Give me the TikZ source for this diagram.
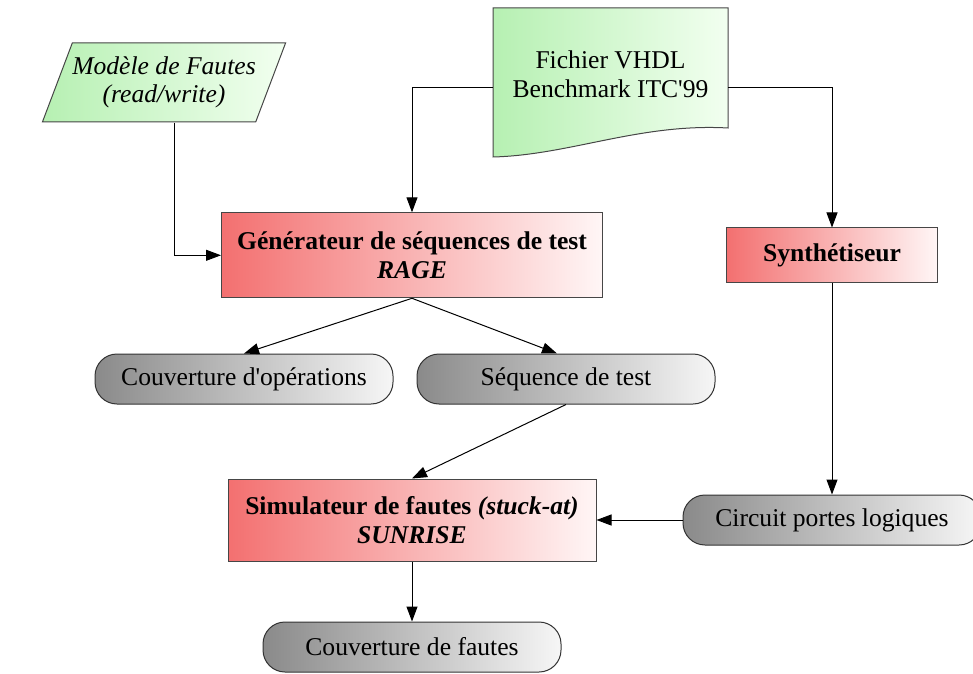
\documentclass[tikz,border=0pt]{standalone}
\usepackage{fontspec}
\setmainfont{Liberation Serif}
\usetikzlibrary{shapes}
\usetikzlibrary{arrows.meta}
\definecolor{redleft}{RGB}{243,112,112}
\definecolor{redright}{RGB}{255,246,246}
\definecolor{greyleft}{RGB}{138,138,138}
\definecolor{greyright}{RGB}{246,246,246}
\definecolor{greenleft}{RGB}{182,240,178}
\definecolor{greenright}{RGB}{242,255,240}
\definecolor{border}{RGB}{70,70,70}
\tikzset{
    mynodered/.style = {rectangle, line width=1pt, draw=border, align=center, left color=redleft, right color=redright, font=\bfseries, text=black},
    mynodegrey/.style = {rectangle, rounded corners=22pt, line width=1pt, draw=black!80, align=center, left color=greyleft, right color=greyright, minimum width=298pt, minimum height=50pt, text=black},
    mynodegreen/.style = {line width=1pt, draw=border, left color=greenleft, right color=greenright},
    edgen/.style = {-{Triangle[length=15pt,width=11pt]}, line width=1pt, black},
    every picture/.style={font issue={\fontsize{25.6}{28.5}}},
    font issue/.style={execute at begin picture={#1\selectfont}}
}

\begin{document}
\begin{tikzpicture}[x=1pt, y=1pt, inner sep=0pt]
  \useasboundingbox (0,0) rectangle (973,673);
  % inputs
  \node[mynodegreen, trapezium, trapezium left angle=60, trapezium right angle=120,
        trapezium stretches=true, minimum width=238pt, minimum height=79pt,
        align=center, font=\itshape] (model) at (164,590.5) {Modèle de Fautes\\(read/write)};
  \path[mynodegreen] (493,665) -- (728,665) -- (728,545)
    .. controls (640,550) and (570,518) .. (493,516) -- cycle;
  \node[align=center, minimum width=235pt, minimum height=132pt] (doc) at (610.5,599) {Fichier VHDL\\Benchmark ITC\textquotesingle 99};
  % tools
  \node[mynodered, minimum width=381pt, minimum height=85pt] (gen) at (412,417.7) {Générateur de séquences de test\\\textit{RAGE}};
  \node[mynodered, minimum width=211pt, minimum height=54pt] (syn) at (832,418) {Synthétiseur};
  \node[mynodered, minimum width=368pt, minimum height=82pt] (sim) at (412,153) {Simulateur de fautes \textit{(stuck-at)}\\\textit{SUNRISE}};
  % results
  \node[mynodegrey] (cop) at (244,294) {Couverture d\textquotesingle opérations};
  \node[mynodegrey] (seq) at (566,294) {Séquence de test};
  \node[mynodegrey] (cir) at (832,153) {Circuit portes logiques};
  \node[mynodegrey] (cdf) at (412,26) {Couverture de fautes};

  \draw[edgen] ([xshift=10pt]model.south) |- (gen.west);
  \draw[edgen] ([yshift=-14pt]doc.west) -| (gen.north);
  \draw[edgen] ([yshift=-14pt]doc.east) -| (syn.north);
  \draw[edgen] (gen.south) -- (cop.north);
  \draw[edgen] (gen.south) -- ([xshift=-9pt]seq.north);
  \draw[edgen] (seq.south) -- (sim.north);
  \draw[edgen] (syn.south) -- (cir.north);
  \draw[edgen] (cir.west) -- (sim.east);
  \draw[edgen] (sim.south) -- (cdf.north);
\end{tikzpicture}
\end{document}
